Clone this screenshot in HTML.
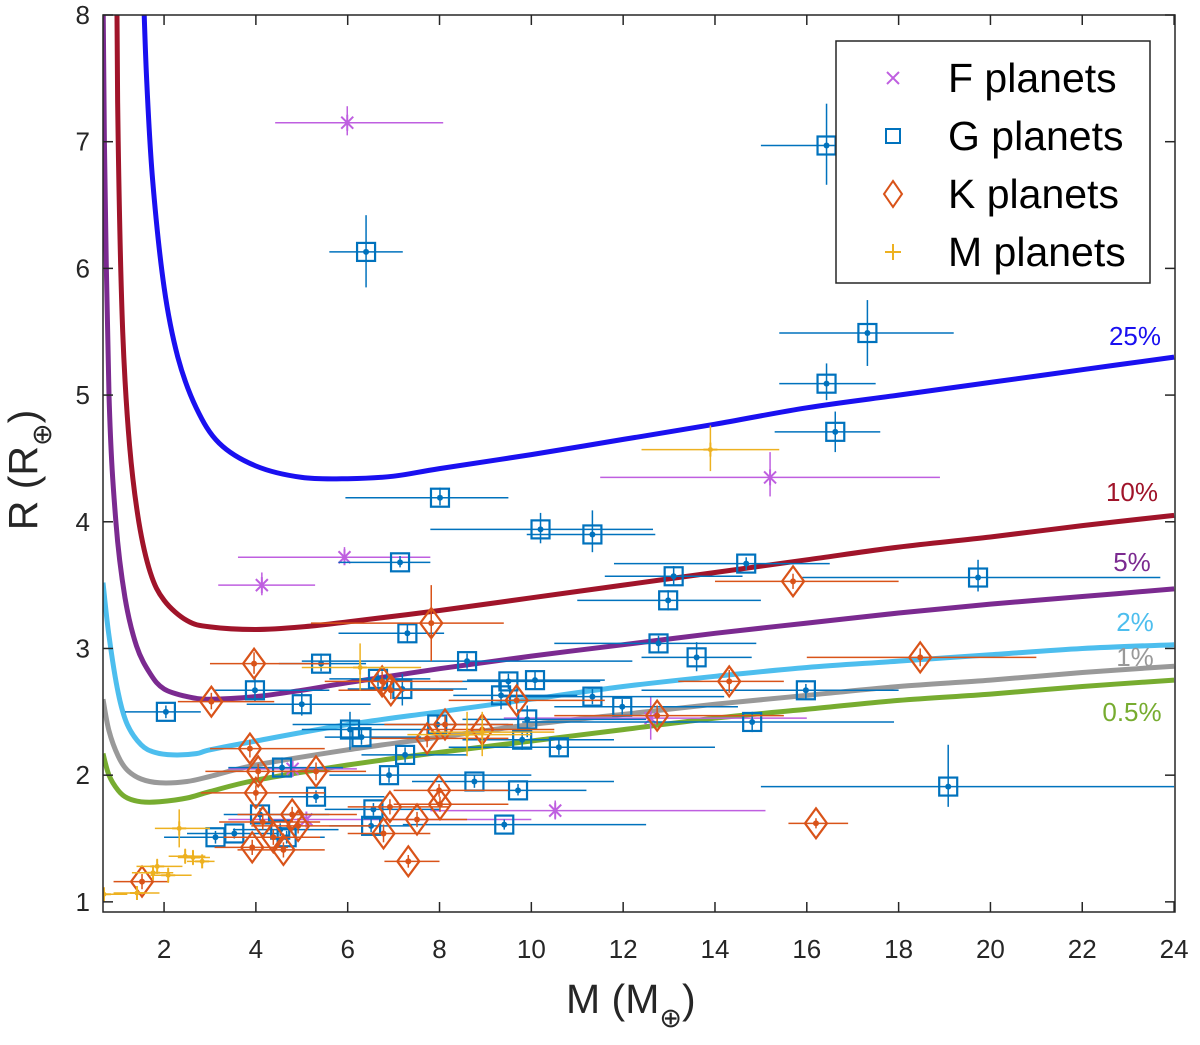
<!DOCTYPE html>
<html><head><meta charset="utf-8"><style>
html,body{margin:0;padding:0;background:#fff;}
svg{display:block;font-family:"Liberation Sans",sans-serif;}
</style></head><body>
<svg id="chart" width="1200" height="1045" viewBox="0 0 1200 1045" xmlns="http://www.w3.org/2000/svg">
<defs><clipPath id="plotclip"><rect x="103" y="15" width="1072" height="897"/></clipPath></defs>
<g id="curves" clip-path="url(#plotclip)"></g>
<g id="points" clip-path="url(#plotclip)"></g>
<g id="axes"></g>
</svg>
<script>
const xTicks=[2,4,6,8,10,12,14,16,18,20,22,24];
const yTicks=[1,2,3,4,5,6,7,8];
// [M, R, Mlo, Mhi, Rlo, Rhi]
const fPlanets=[[5.99,7.15,4.42,8.08,7.05,7.28],[5.93,3.72,3.61,7.8,3.66,3.8],[4.13,3.5,3.18,5.29,3.42,3.6],[15.2,4.35,11.5,18.9,4.2,4.55],[10.52,1.72,7.8,15.1,1.65,1.8],[4.8,2.05,3.4,6.2,2.0,2.1],[5.1,1.65,3.4,10.0,1.6,1.7],[12.6,2.45,9.4,16.0,2.28,2.62]];
const gPlanets=[[16.43,6.97,15.0,17.8,6.66,7.3],[6.4,6.13,5.6,7.2,5.85,6.42],[17.32,5.49,15.4,19.2,5.23,5.75],[16.43,5.09,15.4,17.5,4.96,5.25],[16.62,4.71,15.3,17.6,4.55,4.87],[8.01,4.19,5.95,9.5,4.13,4.27],[10.2,3.94,7.8,12.65,3.83,4.07],[11.33,3.9,9.9,12.7,3.76,4.09],[7.14,3.68,5.8,7.8,3.64,3.73],[14.68,3.67,11.8,16.5,3.62,3.72],[13.1,3.57,11.6,14.6,3.5,3.65],[12.98,3.38,11.0,15.0,3.3,3.46],[19.73,3.56,15.9,23.7,3.45,3.7],[7.3,3.12,5.8,8.1,3.05,3.2],[5.42,2.88,4.5,6.4,2.82,2.96],[8.6,2.9,5.0,12.2,2.84,2.96],[12.77,3.04,10.5,14.9,2.97,3.1],[13.6,2.93,12.4,14.8,2.82,3.05],[2.04,2.5,1.15,2.8,2.45,2.55],[3.98,2.67,3.1,5.6,2.58,2.78],[5.0,2.56,3.8,6.5,2.47,2.65],[6.66,2.76,5.6,7.8,2.7,2.82],[7.19,2.68,6.0,8.6,2.55,2.8],[9.5,2.74,8.0,11.5,2.68,2.8],[10.08,2.75,8.6,11.6,2.68,2.82],[9.34,2.63,8.3,11.0,2.52,2.74],[11.33,2.62,9.3,14.2,2.56,2.68],[11.98,2.54,10.5,14.5,2.48,2.6],[15.98,2.67,12.4,18.0,2.6,2.72],[14.81,2.42,9.8,17.9,2.34,2.5],[7.95,2.4,4.8,9.5,2.33,2.47],[9.91,2.44,8.5,12.5,2.3,2.55],[6.05,2.36,5.0,7.8,2.2,2.5],[6.3,2.3,5.5,7.6,2.24,2.36],[7.25,2.16,6.3,8.6,2.1,2.22],[4.57,2.06,3.4,5.9,1.98,2.14],[6.9,2.0,5.6,10.0,1.94,2.06],[9.8,2.28,8.5,11.8,2.2,2.36],[10.6,2.22,8.2,14.0,2.16,2.28],[8.76,1.95,7.4,11.8,1.9,2.0],[9.71,1.88,8.8,11.2,1.84,1.93],[9.41,1.61,7.2,12.5,1.57,1.65],[5.31,1.83,4.5,6.8,1.78,1.88],[19.08,1.91,15.0,24.0,1.75,2.24],[4.09,1.69,3.3,5.6,1.64,1.74],[6.56,1.73,5.5,8.0,1.68,1.78],[6.51,1.6,5.6,7.4,1.55,1.65],[3.12,1.51,2.0,4.2,1.46,1.56],[3.53,1.54,2.5,4.5,1.5,1.58],[4.53,1.57,3.5,5.8,1.52,1.62],[4.67,1.51,3.8,5.5,1.46,1.56]];
const kPlanets=[[3.96,2.88,3.0,5.6,2.8,2.97],[3.03,2.58,2.3,4.4,2.52,2.65],[3.87,2.21,3.0,5.5,2.14,2.28],[6.75,2.74,5.5,8.5,2.66,2.82],[6.94,2.67,5.8,8.3,2.6,2.74],[7.82,3.2,5.2,9.4,2.9,3.5],[4.05,2.03,2.9,5.6,1.97,2.09],[5.31,2.03,4.5,6.4,1.96,2.1],[4.0,1.86,2.8,5.5,1.8,1.92],[4.79,1.69,3.6,6.2,1.63,1.75],[4.15,1.63,3.2,5.4,1.57,1.69],[4.92,1.6,3.9,6.5,1.54,1.66],[4.38,1.51,3.3,5.4,1.45,1.57],[3.92,1.43,3.1,4.7,1.37,1.49],[4.6,1.41,3.6,5.5,1.35,1.47],[6.78,1.54,6.0,7.8,1.47,1.61],[7.51,1.65,6.8,8.6,1.59,1.71],[7.99,1.88,7.0,9.5,1.83,1.93],[8.01,1.77,7.0,9.5,1.71,1.83],[6.92,1.75,6.0,8.2,1.69,1.81],[7.32,1.32,6.8,8.0,1.27,1.37],[1.52,1.16,0.9,2.1,1.1,1.22],[7.73,2.29,6.5,9.5,2.22,2.36],[8.12,2.4,6.8,9.6,2.33,2.47],[8.93,2.36,7.6,10.5,2.28,2.44],[14.31,2.74,13.2,15.5,2.65,2.83],[15.7,3.53,14.0,18.0,3.47,3.59],[9.68,2.59,8.2,11.6,2.52,2.66],[12.74,2.47,10.5,15.5,2.4,2.55],[18.47,2.93,16.0,21.0,2.86,3.0],[16.2,1.62,15.6,16.9,1.58,1.66]];
const mPlanets=[[13.9,4.57,12.4,15.4,4.4,4.76],[6.27,2.85,5.0,7.6,2.67,3.04],[8.6,2.32,7.3,10.0,2.15,2.5],[8.93,2.34,7.8,10.5,2.15,2.5],[2.33,1.58,1.8,3.0,1.43,1.73],[2.46,1.36,2.1,2.9,1.3,1.42],[2.63,1.35,2.3,3.0,1.29,1.41],[2.83,1.32,2.5,3.1,1.27,1.37],[1.85,1.28,1.4,2.4,1.22,1.34],[1.76,1.23,1.3,2.2,1.17,1.29],[2.09,1.21,1.7,2.6,1.15,1.27],[1.41,1.07,0.9,1.9,1.02,1.12],[0.69,1.06,0.5,1.2,1.02,1.1]];
const curveNames=["25%","10%","5%","2%","1%","0.5%"];
const curve25=[[1.55,8.2],[1.62,7.5],[1.75,6.7],[2,5.85],[2.3,5.3],[2.7,4.9],[3.2,4.62],[4,4.44],[5,4.35],[6,4.34],[7,4.36],[8,4.42],[10,4.53],[12,4.65],[14,4.77],[16,4.9],[18,5.0],[20,5.1],[22,5.2],[24,5.3]];
const curve10=[[0.97,8.2],[1.0,7],[1.1,5.5],[1.25,4.6],[1.45,4.0],[1.7,3.6],[2,3.38],[2.5,3.22],[3,3.17],[4,3.15],[5,3.17],[6,3.21],[8,3.3],[10,3.4],[12,3.5],[14,3.6],[16,3.7],[18,3.8],[20,3.88],[22,3.97],[24,4.05]];
const curve5=[[0.67,8.2],[0.7,7.0],[0.8,5],[0.95,4.0],[1.15,3.4],[1.4,3.02],[1.7,2.8],[2,2.68],[2.5,2.62],[3,2.6],[4,2.62],[5,2.67],[6,2.73],[8,2.84],[10,2.94],[12,3.03],[14,3.12],[16,3.2],[18,3.28],[20,3.35],[22,3.41],[24,3.47]];
const curve2=[[0.67,3.52],[0.8,3.1],[1.0,2.65],[1.2,2.4],[1.5,2.24],[1.8,2.18],[2.2,2.16],[2.7,2.17],[3,2.2],[4,2.27],[6,2.4],[8,2.5],[10,2.6],[12,2.7],[14,2.78],[16,2.85],[18,2.9],[20,2.95],[22,3.0],[24,3.03]];
const curve1=[[0.67,2.6],[0.8,2.35],[1,2.15],[1.2,2.04],[1.5,1.97],[1.9,1.94],[2.5,1.95],[3,1.99],[4,2.08],[6,2.2],[8,2.3],[10,2.4],[12,2.48],[14,2.56],[16,2.63],[18,2.7],[20,2.75],[22,2.81],[24,2.86]];
const curve05=[[0.67,2.17],[0.8,2.0],[1,1.88],[1.2,1.82],[1.5,1.79],[1.9,1.79],[2.5,1.82],[3,1.87],[4,1.96],[6,2.08],[8,2.18],[10,2.27],[12,2.36],[14,2.45],[16,2.52],[18,2.59],[20,2.64],[22,2.7],[24,2.75]];

const NS="http://www.w3.org/2000/svg";
const X0=103,X1=1175,Y0=15,Y1=912;
const xMin=0.67,xMax=24.02,yMin=0.92,yMax=8;
function sx(v){return X0+(v-xMin)/(xMax-xMin)*(X1-X0);}
function sy(v){return Y1-(v-yMin)/(yMax-yMin)*(Y1-Y0);}
function mk(tag,attrs,parent){const e=document.createElementNS(NS,tag);for(const k in attrs)e.setAttribute(k,attrs[k]);parent.appendChild(e);return e;}
const gC=document.getElementById('curves'),gP=document.getElementById('points'),gA=document.getElementById('axes');
function smooth(pts){
  let d='M'+pts[0][0].toFixed(1)+' '+pts[0][1].toFixed(1);
  for(let i=0;i<pts.length-1;i++){
    const p0=pts[Math.max(0,i-1)],p1=pts[i],p2=pts[i+1],p3=pts[Math.min(pts.length-1,i+2)];
    const c1=[p1[0]+(p2[0]-p0[0])/6,p1[1]+(p2[1]-p0[1])/6];
    const c2=[p2[0]-(p3[0]-p1[0])/6,p2[1]-(p3[1]-p1[1])/6];
    d+=`C${c1[0].toFixed(1)} ${c1[1].toFixed(1)} ${c2[0].toFixed(1)} ${c2[1].toFixed(1)} ${p2[0].toFixed(1)} ${p2[1].toFixed(1)}`;
  }
  return d;
}
const curveSets=[curve25,curve10,curve5,curve2,curve1,curve05];
const curveColors=["#1a10f0","#a0142a","#7b2a90","#4dbeee","#999999","#77ac30"];
const labelPos=[[1135,345],[1132,501],[1132,571],[1135,631],[1135,666],[1132,721]];
curveSets.forEach((c,i)=>{
  const d=smooth(c.map(p=>[sx(p[0]),sy(p[1])]));
  const path=mk('path',{d:d,fill:'none',stroke:curveColors[i],'stroke-width':5,'stroke-linejoin':'round'},gC);
  
  
  const t=mk('text',{x:labelPos[i][0],y:labelPos[i][1],fill:curveColors[i],'font-size':26,'text-anchor':'middle'},gA);
  t.textContent=curveNames[i];
  
  
});

function errbars(p,col,g){
  mk('line',{x1:sx(p[2]),x2:sx(p[3]),y1:sy(p[1]),y2:sy(p[1]),stroke:col,'stroke-width':1.5},g);
  mk('line',{x1:sx(p[0]),x2:sx(p[0]),y1:sy(p[4]),y2:sy(p[5]),stroke:col,'stroke-width':1.5},g);
}
function drawMarker(type,cx,cy,col,g){
  if(type==='x'){
    mk('path',{d:`M${cx-6} ${cy-6}L${cx+6} ${cy+6}M${cx-6} ${cy+6}L${cx+6} ${cy-6}M${cx} ${cy-8}L${cx} ${cy+8}`,stroke:col,'stroke-width':2,fill:'none'},g);
  }else if(type==='s'){
    mk('rect',{x:cx-9,y:cy-9,width:18,height:18,fill:'none',stroke:col,'stroke-width':2.2},g);
    mk('circle',{cx:cx,cy:cy,r:3,fill:col},g);
  }else if(type==='d'){
    mk('path',{d:`M${cx} ${cy-15}L${cx+11} ${cy}L${cx} ${cy+15}L${cx-11} ${cy}Z`,fill:'none',stroke:col,'stroke-width':2.2},g);
    mk('circle',{cx:cx,cy:cy,r:3,fill:col},g);
  }else{
    mk('path',{d:`M${cx-7} ${cy}L${cx+7} ${cy}M${cx} ${cy-7}L${cx} ${cy+7}`,stroke:col,'stroke-width':2},g);
    mk('circle',{cx:cx,cy:cy,r:2.5,fill:col},g);
  }
}
const series=[[fPlanets,'x','#bf5fe0','f-planet'],[gPlanets,'s','#0072bd','g-planet'],[kPlanets,'d','#d95319','k-planet'],[mPlanets,'+','#edb120','m-planet']];
series.forEach(s=>{
  s[0].forEach((p,i)=>{
    const g=mk('g',{},gP);
    
    
    errbars(p,s[2],g);
    drawMarker(s[1],sx(p[0]),sy(p[1]),s[2],g);
  });
});

mk('rect',{x:X0,y:Y0,width:X1-X0,height:Y1-Y0,fill:'none',stroke:'#262626','stroke-width':1.5},gA);
xTicks.forEach(v=>{
  const x=sx(v);
  mk('line',{x1:x,x2:x,y1:Y1,y2:Y1-10,stroke:'#262626','stroke-width':1.5},gA);
  mk('line',{x1:x,x2:x,y1:Y0,y2:Y0+10,stroke:'#262626','stroke-width':1.5},gA);
  const t=mk('text',{x:x,y:958,'font-size':26,'text-anchor':'middle',fill:'#262626'},gA);
  t.textContent=v;
  
  
});
yTicks.forEach(v=>{
  const y=sy(v);
  mk('line',{x1:X0,x2:X0+10,y1:y,y2:y,stroke:'#262626','stroke-width':1.5},gA);
  mk('line',{x1:X1,x2:X1-10,y1:y,y2:y,stroke:'#262626','stroke-width':1.5},gA);
  const t=mk('text',{x:90,y:y+9,'font-size':26,'text-anchor':'end',fill:'#262626'},gA);
  t.textContent=v;
  
  
});
</script>
<svg style="position:absolute;left:0;top:0" width="1200" height="1045">
<text x="566" y="1013" font-size="41" fill="#262626" font-family="Liberation Sans, sans-serif">M (M<tspan font-size="27" dy="14">⊕</tspan><tspan dy="-14">)</tspan></text>
<text transform="translate(37,470) rotate(-90)" text-anchor="middle" font-size="41" fill="#262626" font-family="Liberation Sans, sans-serif">R (R<tspan font-size="27" dy="14">⊕</tspan><tspan dy="-14">)</tspan></text>
<g font-family="Liberation Sans, sans-serif">
<rect x="836" y="41" width="314" height="242" fill="#fff" stroke="#262626" stroke-width="1.5"/>
<g><path d="M887 72L899 84M887 84L899 72" stroke="#bf5fe0" stroke-width="2"/><text x="948" y="92" font-size="41" fill="#000">F planets</text></g>
<g><rect x="886" y="129" width="14" height="14" fill="none" stroke="#0072bd" stroke-width="2"/><text x="948" y="150" font-size="41" fill="#000">G planets</text></g>
<g><path d="M893 181L902 194L893 207L884 194Z" fill="none" stroke="#d95319" stroke-width="2"/><text x="948" y="208" font-size="41" fill="#000">K planets</text></g>
<g><path d="M885 252L901 252M893 244L893 260" stroke="#edb120" stroke-width="2"/><text x="948" y="266" font-size="41" fill="#000">M planets</text></g>
</g>
</svg>
</body></html>
